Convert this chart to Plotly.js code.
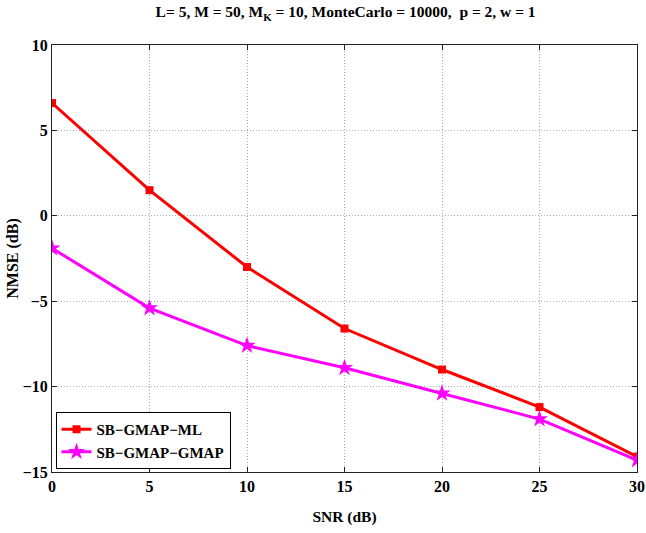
<!DOCTYPE html>
<html><head><meta charset="utf-8">
<script src="https://cdn.plot.ly/plotly-3.0.1.min.js"></script>
<style>html,body{margin:0;padding:0;background:#fff;}#chart{width:646px;height:533px;}</style>
</head><body><div id="chart"></div>
<script>
const snr = [0, 5, 10, 15, 20, 25, 30];
const nmseML = [6.6, 1.5, -3.0, -6.6, -9.0, -11.2, -14.1];
const nmseGMAP = [-1.9, -5.4, -7.6, -8.9, -10.4, -11.9, -14.3];
const seriesNames = ['SB\u2212GMAP\u2212ML', 'SB\u2212GMAP\u2212GMAP'];
const xTicks = [0, 5, 10, 15, 20, 25, 30];
const yTicks = [-15, -10, -5, 0, 5, 10];
const yTickText = ['\u221215', '\u221210', '\u22125', '0', '5', '10'];

const font = {family: 'Liberation Serif, Times New Roman, serif', color: '#000'};
const traces = [
  {x: snr, y: nmseML, name: seriesNames[0], mode: 'lines+markers',
   line: {color: '#ff0000', width: 3}, marker: {symbol: 'square', size: 8, color: '#ff0000'}},
  {x: snr, y: nmseGMAP, name: seriesNames[1], mode: 'lines+markers',
   line: {color: '#ff00ff', width: 3}, marker: {symbol: 'star', size: 13, color: '#ff00ff'}}
];
const axisCommon = {
  showline: true, linecolor: '#222', linewidth: 1, mirror: 'ticks',
  ticks: 'inside', ticklen: 5, tickcolor: '#222',
  showgrid: true, gridcolor: '#aaa', griddash: '1px,2px', gridwidth: 1,
  zeroline: false,
  tickfont: Object.assign({}, font, {size: 16, weight: 'bold'})
};
const layout = {
  width: 646, height: 533,
  margin: {l: 52, r: 9, t: 45, b: 61},
  paper_bgcolor: '#fff', plot_bgcolor: '#fff',
  font: font,
  showlegend: true,
  title: {text: '<b>L= 5, M = 50, M<sub>K</sub> = 10, MonteCarlo = 10000,  p = 2, w = 1</b>',
          x: 0.535, xanchor: 'center', y: 0.988, yanchor: 'top',
          font: Object.assign({}, font, {size: 15.5})},
  xaxis: Object.assign({}, axisCommon, {
    range: [0, 30], tickvals: xTicks, ticktext: xTicks.map(String),
    title: {text: '<b>SNR (dB)</b>', font: Object.assign({}, font, {size: 15.5}), standoff: 16}
  }),
  yaxis: Object.assign({}, axisCommon, {
    range: [-15, 10], tickvals: yTicks, ticktext: yTickText,
    title: {text: '<b>NMSE (dB)</b>', font: Object.assign({}, font, {size: 16}), standoff: 0}
  }),
  legend: {x: 0.006, y: 0.007, xanchor: 'left', yanchor: 'bottom',
           bgcolor: '#fff', bordercolor: '#000', borderwidth: 1,
           font: Object.assign({}, font, {size: 15, weight: 'bold'}),
           itemwidth: 30, tracegroupgap: 0}
};
Plotly.newPlot('chart', traces, layout, {displayModeBar: false, staticPlot: true});
</script></body></html>
